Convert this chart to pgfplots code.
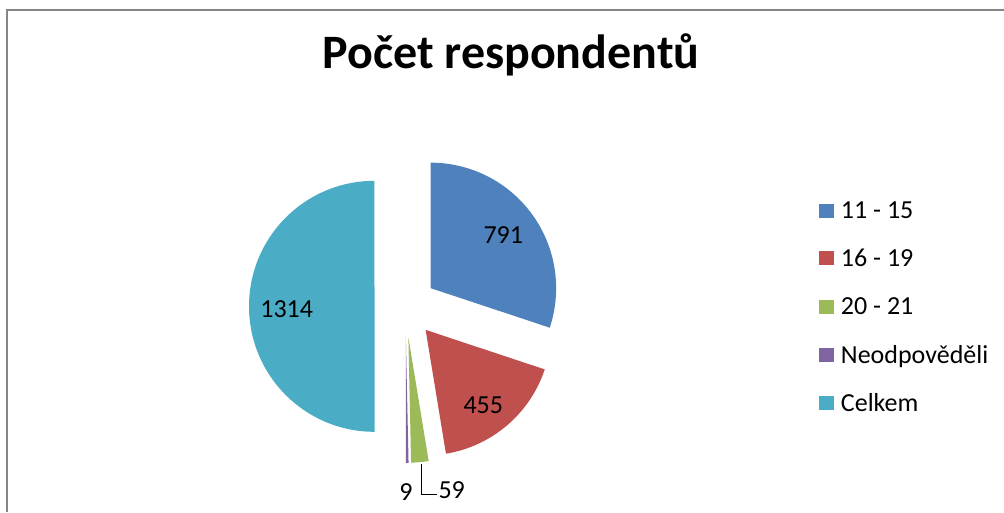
\documentclass[border=0pt]{standalone}
\usepackage{pgfplots}
\pgfplotsset{compat=1.18}
\usepackage{pgfplotstable}
\usepackage{fontspec}
\setmainfont{Carlito}
\definecolor{c0}{HTML}{4F81BD}
\definecolor{c1}{HTML}{C0504D}
\definecolor{c2}{HTML}{9BBB59}
\definecolor{c3}{HTML}{8064A2}
\definecolor{c4}{HTML}{4BACC6}
\definecolor{frame}{HTML}{868686}

\pgfplotstableread{
label value
{11 - 15} 791
{16 - 19} 455
{20 - 21} 59
{Neodpověděli} 9
{Celkem} 1314
}\piedata

\newcommand\legrow[3]{%
  \fill[#2] (axis cs:819.3,#1-7) rectangle (axis cs:833.6,#1+7);
  \node[anchor=base west, inner sep=0pt] at (axis cs:840.7,#1-8) {#3};
}

\begin{document}
\begin{tikzpicture}
\useasboundingbox (0,0) rectangle (753pt,384pt);
% slice angles (start at 12 o'clock, clockwise) and exploded centres
\xdef\total{0}
\foreach \i in {0,...,4}{
  \pgfplotstablegetelem{\i}{value}\of\piedata
  \pgfmathparse{\total+\pgfplotsretval}
  \xdef\total{\pgfmathresult}
}
\xdef\curang{90}
\foreach \i in {0,...,4}{
  \pgfplotstablegetelem{\i}{value}\of\piedata
  \pgfmathsetmacro{\aend}{\curang - \pgfplotsretval/\total*360}
  \pgfmathsetmacro{\amid}{(\curang+\aend)/2}
  \pgfmathsetmacro{\cx}{405.5+31*cos(\amid)}
  \pgfmathsetmacro{\cy}{205.7+31*sin(\amid)}
  \expandafter\xdef\csname pa\i\endcsname{\curang}
  \expandafter\xdef\csname pb\i\endcsname{\aend}
  \expandafter\xdef\csname px\i\endcsname{\cx}
  \expandafter\xdef\csname py\i\endcsname{\cy}
  \xdef\curang{\aend}
}
\begin{axis}[
  at={(0,0)}, anchor=south west,
  scale only axis, width=753pt, height=384pt,
  xmin=0, xmax=1004, ymin=0, ymax=512,
  hide axis, clip=false]
% frame
\draw[frame, line width=1.5pt] (axis cs:7,0) -- (axis cs:7,502) -- (axis cs:1004,502);
% title
\node[font=\bfseries\fontsize{36}{40}\selectfont, anchor=base] at (axis cs:511,444) {Počet respondentů};
% slices
\pgfplotsinvokeforeach{0,...,4}{
  \fill[c#1] (axis cs:\csname px#1\endcsname,\csname py#1\endcsname)
    -- ++(\csname pa#1\endcsname:94.125pt)
    arc[start angle=\csname pa#1\endcsname, end angle=\csname pb#1\endcsname, radius=94.125pt]
    -- cycle;
}
% data labels
\node[font=\fontsize{19.5}{23}\selectfont] at (axis cs:503.3,277) {791};
\node[font=\fontsize{19.5}{23}\selectfont] at (axis cs:483.3,107) {455};
\node[font=\fontsize{19.5}{23}\selectfont] at (axis cs:286.7,202.7) {1314};
\node[font=\fontsize{19.5}{23}\selectfont] at (axis cs:406,20.3) {9};
\node[font=\fontsize{19.5}{23}\selectfont] at (axis cs:451.7,22) {59};
\draw[black, line width=1.1pt] (axis cs:421.7,48) -- (axis cs:421.7,17.7) -- (axis cs:436.7,17.7);
% legend
\begin{scope}[font=\fontsize{19.5}{23}\selectfont]
\legrow{301.3}{c0}{11 - 15}
\legrow{253.7}{c1}{16 - 19}
\legrow{205.3}{c2}{20 - 21}
\legrow{157}{c3}{Neodpověděli}
\legrow{108.7}{c4}{Celkem}
\end{scope}
\end{axis}
\end{tikzpicture}
\end{document}
